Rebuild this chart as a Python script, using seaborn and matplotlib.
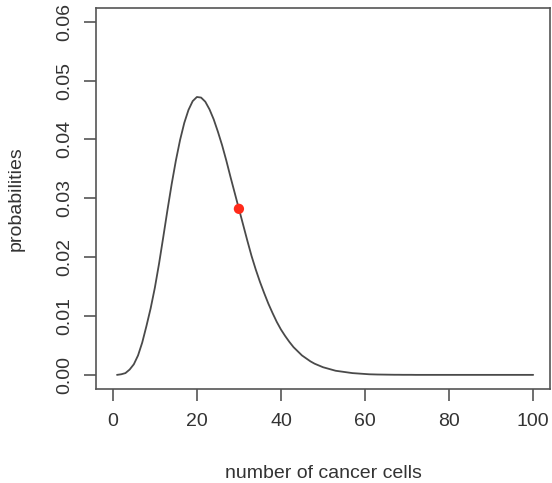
import matplotlib
matplotlib.use("Agg")
import matplotlib.pyplot as plt
import seaborn as sns
import pandas as pd

# number of cancer cells (x) and probabilities (y)
cells = list(range(1, 101))
probs = [
    0.0000, 0.0001, 0.0003, 0.0009, 0.0018, 0.0033, 0.0055, 0.0083, 0.0113,
    0.0148, 0.0189, 0.0234, 0.0280, 0.0324, 0.0364, 0.0399, 0.0428, 0.0450, 0.0465,
    0.0472, 0.0471, 0.0464, 0.0451, 0.0434, 0.0413, 0.0390, 0.0364, 0.0336, 0.0309,
    0.0282, 0.0255, 0.0228, 0.0202, 0.0179, 0.0158, 0.0139, 0.0121, 0.0105, 0.0090,
    0.0077, 0.0066, 0.0056, 0.0047, 0.0040, 0.0033, 0.0028, 0.0023, 0.0019, 0.0016,
    0.0013, 0.0011, 0.0009, 0.0007, 0.0006, 0.0005, 0.0004, 0.0003, 0.00025, 0.0002,
    0.00015, 0.0001, 0.00008, 0.00006, 0.00005, 0.00004, 0.00003, 0.00002, 0.00002, 0.00001,
    0.00001, 0.00001, 0.0, 0.0, 0.0, 0.0, 0.0, 0.0, 0.0, 0.0,
    0.0, 0.0, 0.0, 0.0, 0.0, 0.0, 0.0, 0.0, 0.0, 0.0,
    0.0, 0.0, 0.0, 0.0, 0.0, 0.0, 0.0, 0.0, 0.0, 0.0,
    0.0,
]
point_x = [30]
point_y = [0.0282]

x_ticks = [0, 20, 40, 60, 80, 100]
y_ticks = [0.00, 0.01, 0.02, 0.03, 0.04, 0.05, 0.06]
y_tick_labels = ["0.00", "0.01", "0.02", "0.03", "0.04", "0.05", "0.06"]

sns.set_style("white")
plt.rcParams['font.family'] = ['Liberation Sans', 'DejaVu Sans']

df = pd.DataFrame({"cells": cells, "probs": probs})
pt = pd.DataFrame({"cells": point_x, "probs": point_y})

fig = plt.figure(figsize=(5.52, 4.83), dpi=100)
fig.subplots_adjust(left=96/552, right=550/552, top=1-7.5/483, bottom=1-389/483)
ax = fig.add_subplot(111)

sns.lineplot(data=df, x="cells", y="probs", ax=ax, color="#4a4a4a", linewidth=1.3)
sns.scatterplot(data=pt, x="cells", y="probs", ax=ax, color="#ff2a1a", s=55,
                edgecolor="none", zorder=5)

ax.set_xlim(-4, 104)
ax.set_ylim(-0.0024, 0.0624)
ax.set_xticks(x_ticks)
ax.set_yticks(y_ticks)
ax.set_yticklabels(y_tick_labels, rotation=90, va="center")

for s in ax.spines.values():
    s.set_visible(True)
    s.set_color("#555555")
    s.set_linewidth(1.2)

ax.tick_params(axis="both", direction="out", length=8.6, width=1.2, color="#555555",
               labelsize=14, labelcolor="#333333", left=True, bottom=True)
ax.tick_params(axis="x", pad=9)
ax.tick_params(axis="y", pad=8)

ax.set_xlabel("number of cancer cells", fontsize=14, color="#333333")
ax.set_ylabel("probabilities", fontsize=14, color="#333333")
ax.xaxis.set_label_coords(0.5, -0.200)
ax.yaxis.set_label_coords(-0.158, 0.5)

fig.savefig("out.png", dpi=100)
